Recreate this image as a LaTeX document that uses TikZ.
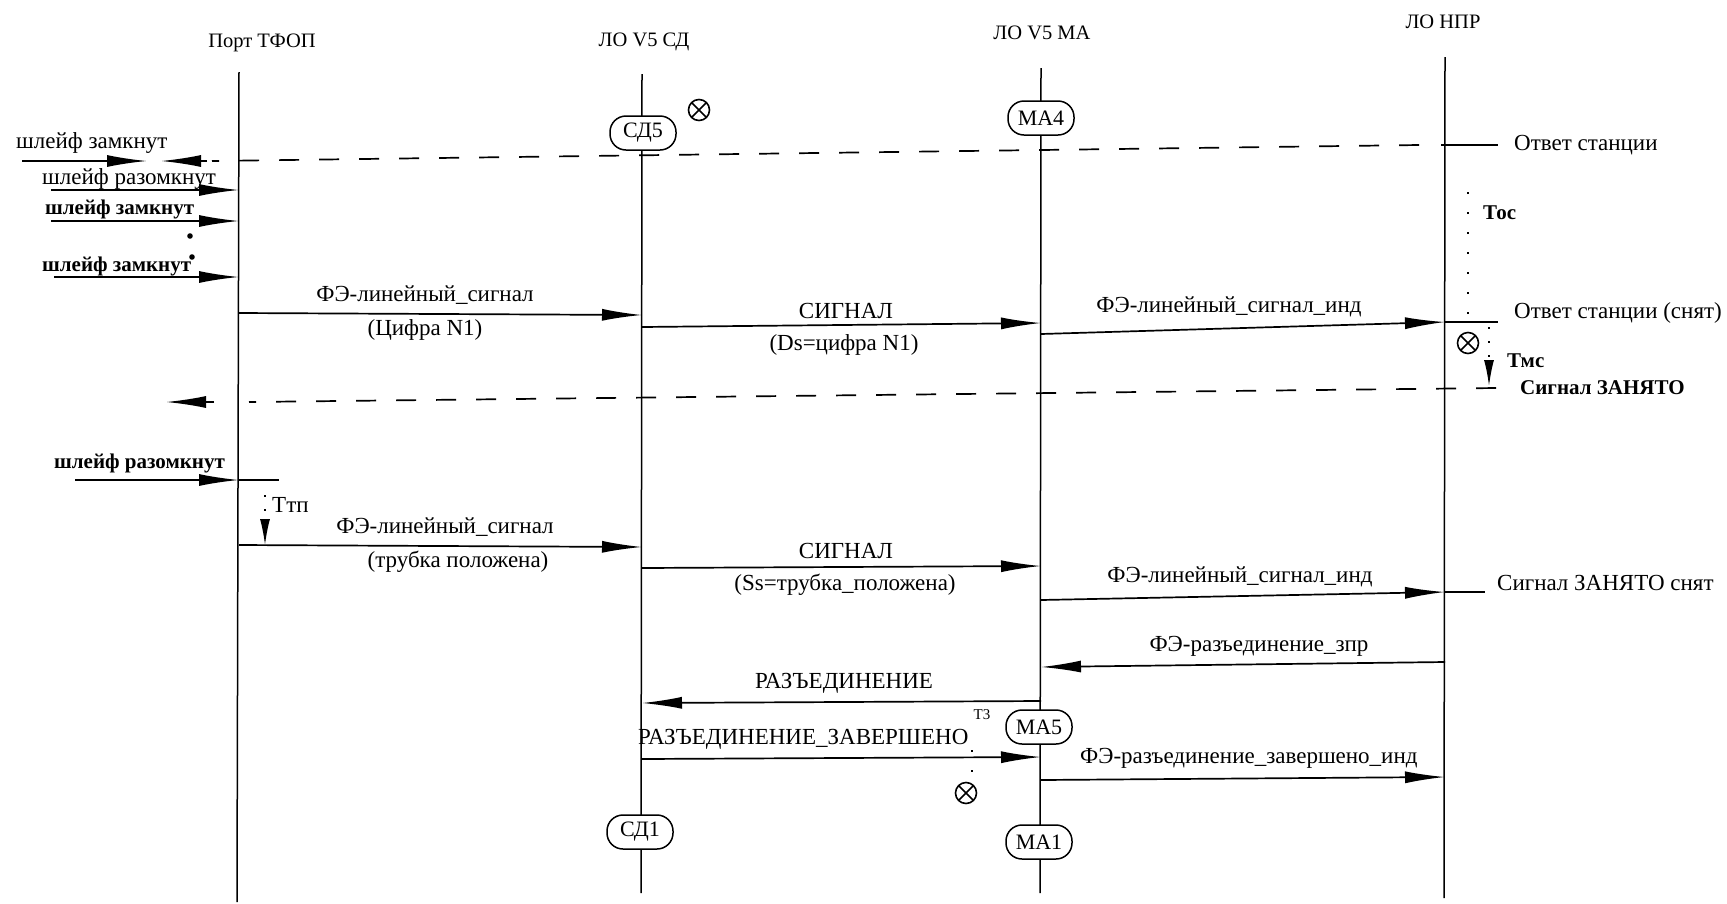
\documentclass[tikz,border=0pt]{standalone}
\usepackage{fontspec}
\setmainfont{Liberation Serif}
\usetikzlibrary{arrows.meta}

\tikzset{
  every node/.style={font=\fontsize{23}{25}\selectfont, inner sep=0pt},
  head/.style={font=\fontsize{20.5}{22}\selectfont},
  bold/.style={font=\fontsize{21}{23}\selectfont\bfseries},
  life/.style={line width=1.5pt},
  msg/.style={line width=1.7pt, -{Latex[length=40pt,width=12pt]}},
  plain/.style={line width=1.7pt},
  ret/.style={line width=1.7pt, dash pattern=on 20pt off 20pt},
  tmr/.style={line width=1.5pt, dash pattern=on 2pt off 18pt},
  tmrarrow/.style={line width=1.5pt, dash pattern=on 2pt off 12pt, -{Latex[length=26pt,width=10pt]}},
  state/.style={draw, line width=1.5pt, rounded corners=16pt, fill=white,
    minimum width=66pt, minimum height=34pt, inner sep=2pt, font=\fontsize{22}{24}\selectfont},
  xmark/.style={circle, draw, line width=1.6pt, minimum size=21pt,
    path picture={\draw[line width=1.6pt]
      (path picture bounding box.north west) -- (path picture bounding box.south east)
      (path picture bounding box.north east) -- (path picture bounding box.south west);}}
}

\begin{document}
\begin{tikzpicture}[x=1pt, y=-1pt]
	\useasboundingbox (0,0) rectangle (1727,903);
	% heads and lifelines
	\node [head] (hport) at (262,43) {Порт ТФОП};
	\node [head] (hsd) at (644,42) {ЛО V5 СД};
	\node [head] (hma) at (1042,33) {ЛО V5 МА};
	\node [head] (hnpr) at (1443,22) {ЛО НПР};
	\coordinate (port1) at (239,72);  \coordinate (port2) at (237,902);
	\coordinate (sd1) at (642,74);    \coordinate (sd2) at (641,893);
	\coordinate (ma1) at (1041,68);   \coordinate (ma2) at (1040,893);
	\coordinate (npr1) at (1445,57);  \coordinate (npr2) at (1444,898);
	\draw [life] (port1) -- (port2);
	\draw [life] (sd1) -- (sd2);
	\draw [life] (ma1) -- (ma2);
	\draw [life] (npr1) -- (npr2);

	% answer tone, loop signals
	\coordinate (ans1) at (1419,145); \coordinate (ans2) at (212,161);
	\coordinate (ans3) at (1441,145); \coordinate (ans4) at (1498,145);
	\draw [ret] (ans1) -- (ans2);
	\draw [plain] (ans3) -- (ans4);
	\node [anchor=west] (tans) at (1514,145) {Ответ станции};
	\coordinate (lz1a) at (22,161);  \coordinate (lz1b) at (147,161);
	\coordinate (lz1c) at (207,161); \coordinate (lz1d) at (161,161);
	\draw [msg] (lz1a) -- (lz1b);
	\draw [msg] (lz1c) -- (lz1d);
	\node [anchor=west] (tlz1) at (16,143) {шлейф замкнут};
	\coordinate (lr1a) at (51,190);  \coordinate (lr1b) at (239,190);
	\draw [msg] (lr1a) -- (lr1b);
	\node [anchor=west] (tlr1) at (42,179) {шлейф разомкнут};
	\coordinate (lz2a) at (51,221);  \coordinate (lz2b) at (239,221);
	\draw [msg] (lz2a) -- (lz2b);
	\node [bold, anchor=west] (tlz2) at (45,209) {шлейф замкнут};
	\fill (190,236) circle (2.8pt);
	\coordinate (lz3a) at (54,277);  \coordinate (lz3b) at (239,277);
	\draw [msg] (lz3a) -- (lz3b);
	\node [bold, anchor=west] (tlz3) at (42,266) {шлейф замкнут};
	\fill (192,257) circle (2.8pt);

	% digit N1
	\coordinate (d1a) at (239,313);  \coordinate (d1b) at (642,315);
	\draw [msg] (d1a) -- (d1b);
	\node (td1) at (425,295) {ФЭ-линейный\_сигнал};
	\node (td1b) at (425,330) {(Цифра N1)};
	\coordinate (d2a) at (642,327);  \coordinate (d2b) at (1041,323);
	\draw [msg] (d2a) -- (d2b);
	\node (td2) at (846,311) {СИГНАЛ};
	\node (td2b) at (844,345) {(Ds=цифра N1)};
	\coordinate (d3a) at (1041,334); \coordinate (d3b) at (1445,322);
	\coordinate (d3c) at (1498,322);
	\draw [msg] (d3a) -- (d3b);
	\draw [plain] (d3b) -- (d3c);
	\node (td3) at (1229,307) {ФЭ-линейный\_сигнал\_инд};
	\node [anchor=west] (tans2) at (1514,313) {Ответ станции (снят)};
	\coordinate (toc1) at (1468,192); \coordinate (toc2) at (1468,315);
	\draw [tmr] (toc1) -- (toc2);
	\node [bold, anchor=west] (ttoc) at (1483,213) {Тос};
	\node [xmark] (x2) at (1468,343) {};
	\coordinate (tmc1) at (1489,327); \coordinate (tmc2) at (1489,386);
	\draw [tmrarrow] (tmc1) -- (tmc2);
	\node [bold, anchor=west] (ttmc) at (1507,361) {Тмс};

	% busy tone
	\coordinate (bz1) at (1496,388); \coordinate (bz2) at (249,402);
	\draw [ret] (bz1) -- (bz2);
	\coordinate (bz3) at (214,402); \coordinate (bz4) at (166,402);
	\draw [msg] (bz3) -- (bz4);
	\node [bold, anchor=west] (tbz) at (1520,388) {Сигнал ЗАНЯТО};

	% on-hook
	\coordinate (lr2a) at (75,480);  \coordinate (lr2b) at (239,480);
	\coordinate (lr2c) at (279,480);
	\draw [msg] (lr2a) -- (lr2b);
	\draw [plain] (lr2b) -- (lr2c);
	\node [bold, anchor=west] (tlr2) at (54,463) {шлейф разомкнут};
	\coordinate (ttp1) at (265,495); \coordinate (ttp2) at (265,545);
	\draw [tmrarrow] (ttp1) -- (ttp2);
	\node [anchor=west] (tttp) at (272,505) {Ттп};
	\coordinate (h1a) at (239,545);  \coordinate (h1b) at (642,547);
	\draw [msg] (h1a) -- (h1b);
	\node (th1) at (445,527) {ФЭ-линейный\_сигнал};
	\node (th1b) at (458,562) {(трубка положена)};
	\coordinate (h2a) at (642,568);  \coordinate (h2b) at (1041,566);
	\draw [msg] (h2a) -- (h2b);
	\node (th2) at (846,551) {СИГНАЛ};
	\node (th2b) at (845,585) {(Ss=трубка\_положена)};
	\coordinate (h3a) at (1041,600); \coordinate (h3b) at (1445,592);
	\coordinate (h3c) at (1485,592);
	\draw [msg] (h3a) -- (h3b);
	\draw [plain] (h3b) -- (h3c);
	\node (th3) at (1240,577) {ФЭ-линейный\_сигнал\_инд};
	\node [anchor=west] (tbz2) at (1497,583) {Сигнал ЗАНЯТО снят};

	% release
	\coordinate (r1a) at (1445,662); \coordinate (r1b) at (1041,667);
	\draw [msg] (r1a) -- (r1b);
	\node (tr1) at (1259,646) {ФЭ-разъединение\_зпр};
	\coordinate (r2a) at (1041,701); \coordinate (r2b) at (642,703);
	\draw [msg] (r2a) -- (r2b);
	\node (tr2) at (844,683) {РАЗЪЕДИНЕНИЕ};
	\coordinate (r3a) at (642,759);  \coordinate (r3b) at (1041,757);
	\draw [msg] (r3a) -- (r3b);
	\node [anchor=west] (tr3) at (638,739) {РАЗЪЕДИНЕНИЕ\_ЗАВЕРШЕНО};
	\node [font=\fontsize{15}{16}\selectfont] (tt3) at (982,715) {Т3};
	\coordinate (t3a) at (972,750); \coordinate (t3b) at (972,778);
	\draw [tmr] (t3a) -- (t3b);
	\node [xmark] (x3) at (966,793) {};
	\coordinate (r4a) at (1041,780); \coordinate (r4b) at (1445,777);
	\draw [msg] (r4a) -- (r4b);
	\node [anchor=west] (tr4) at (1080,758) {ФЭ-разъединение\_завершено\_инд};

	% states
	\node [xmark] (x1) at (699,110) {};
	\node [state] (sd5) at (643,133) {СД5};
	\node [state] (ma4) at (1041,118) {МА4};
	\node [state] (ma5) at (1039,727) {МА5};
	\node [state] (sd1s) at (640,832) {СД1};
	\node [state] (ma1s) at (1039,842) {МА1};
\end{tikzpicture}
\end{document}
